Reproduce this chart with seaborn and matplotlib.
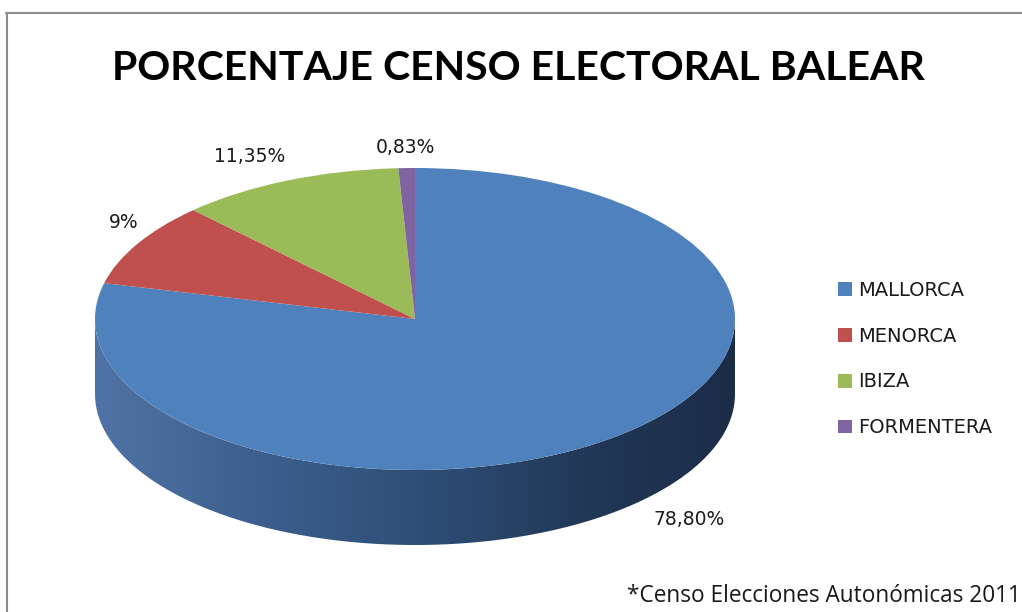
import numpy as np
import matplotlib
matplotlib.use("Agg")
import matplotlib.pyplot as plt
import seaborn as sns
from matplotlib.colors import LinearSegmentedColormap
from matplotlib.patches import Polygon
from matplotlib.lines import Line2D

# ---- data ----
islands = ["MALLORCA", "MENORCA", "IBIZA", "FORMENTERA"]
percentages = [78.80, 9.0, 11.35, 0.83]
pct_labels = ["78,80%", "9%", "11,35%", "0,83%"]
title = "PORCENTAJE CENSO ELECTORAL BALEAR"
footnote = "*Censo Elecciones Autonómicas 2011"

# ---- style ----
sns.set_theme(style="white")
plt.rcParams["font.family"] = ["DejaVu Sans"]
colors = ["#4f81bd", "#c0504d", "#9bbb59", "#8064a2"]
side_cmap = LinearSegmentedColormap.from_list(
    "side", ["#4f73a4", "#3d5f8e", "#2f4f78", "#223959", "#1b2c47"])
# label nudges in pixels (layout only)
label_nudge = [(57, -5), (14, 8), (-25, 0), (0, -5)]

W, H = 1022, 612
fig = plt.figure(figsize=(W / 100, H / 100), dpi=100)
fig.patch.set_facecolor("white")

# pie geometry in pixels (layout)
cx_px, rx_px = 415, 320
top_px, bot_top_px, bot_px = 168, 470, 545
ry_px = (bot_top_px - top_px) / 2
depth = (bot_px - bot_top_px) / ry_px

ax = fig.add_axes([(cx_px - rx_px) / W, (H - bot_px) / H,
                   2 * rx_px / W, (bot_px - top_px) / H])
ax.set_facecolor("none")

wedges, _ = ax.pie(percentages, colors=colors, startangle=90,
                   counterclock=False, radius=1,
                   wedgeprops=dict(linewidth=0, zorder=3))
ax.set_aspect("auto")
ax.axis("off")

# 3D side of the pie, front half only, derived from each wedge's angles
for w in wedges:
    lo2, hi2 = max(w.theta1, -180.0), min(w.theta2, 0.0)
    if hi2 <= lo2:
        continue
    t = np.radians(np.linspace(lo2, hi2, 200))
    upper = np.column_stack([np.cos(t), np.sin(t)])
    lower = np.column_stack([np.cos(t[::-1]), np.sin(t[::-1]) - depth])
    poly = Polygon(np.vstack([upper, lower]), closed=True,
                   facecolor="none", edgecolor="none")
    ax.add_patch(poly)
    grad = np.linspace(0, 1, 256).reshape(1, -1)
    im = ax.imshow(grad, cmap=side_cmap, extent=(-1, 1, -1 - depth, 0),
                   aspect="auto", zorder=2, interpolation="bicubic")
    im.set_clip_path(poly)
ax.set_xlim(-1, 1)
ax.set_ylim(-1 - depth, 1)

# percentage labels placed outside the wedges
for w, lab, (dx, dy) in zip(wedges, pct_labels, label_nudge):
    mid = np.radians((w.theta1 + w.theta2) / 2)
    x = 1.1 * np.cos(mid)
    y = 1.17 * np.sin(mid)
    if np.sin(mid) < 0:
        y -= depth * 0.75
    ax.annotate(lab, (x, y), xytext=(dx * 0.72, dy * 0.72),
                textcoords="offset points", ha="center", va="center",
                fontsize=13.5, color="#1a1a1a", zorder=5,
                annotation_clip=False)

# title
fig.text(518 / W, 1 - 69 / H, title, ha="center", va="center",
         fontsize=29.5, fontweight="bold", color="black",
         family=["Lato", "DejaVu Sans"])

# legend
handles = [plt.Rectangle((0, 0), 1, 1, facecolor=c, edgecolor="none")
           for c in colors]
leg = fig.legend(handles, islands, loc="upper left",
                 bbox_to_anchor=(830 / W, 1 - 273 / H), frameon=False,
                 fontsize=14, handlelength=0.72, handleheight=0.72,
                 handletextpad=0.35, labelspacing=1.38, borderaxespad=0)
for txt in leg.get_texts():
    txt.set_color("#1a1a1a")

# footnote
fig.text(1021 / W, 1 - 596 / H, footnote, ha="right", va="center",
         fontsize=16.3, color="#1a1a1a", family=["Open Sans", "DejaVu Sans"])

# chart border
fig.add_artist(Line2D([6 / W, 1], [1 - 12.5 / H, 1 - 12.5 / H],
                      transform=fig.transFigure, color="#8c8c8c", lw=1.5))
fig.add_artist(Line2D([6.5 / W, 6.5 / W], [0, 1 - 12.5 / H],
                      transform=fig.transFigure, color="#8c8c8c", lw=1.5))

fig.savefig("out.png", dpi=100, facecolor="white")
